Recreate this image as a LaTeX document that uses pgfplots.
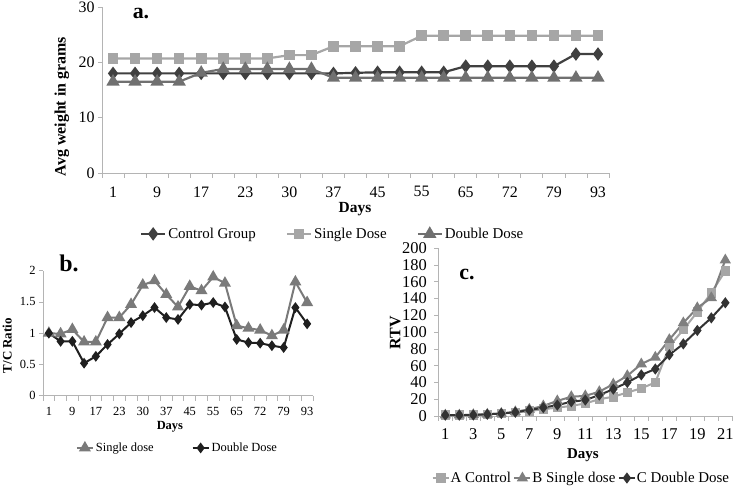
\documentclass[border=0pt]{standalone}
\usepackage{fontspec}
\setmainfont{Liberation Serif}
\usepackage{pgfplots}
\pgfplotsset{compat=1.18}
\definecolor{axgray}{HTML}{B4B4B4}
\definecolor{aCtrl}{HTML}{404040}
\definecolor{aSing}{HTML}{A6A6A6}
\definecolor{aDoub}{HTML}{707070}
\definecolor{bSing}{HTML}{7A7A7A}
\definecolor{bDoub}{HTML}{1F1F1F}
\definecolor{cA}{HTML}{A6A6A6}
\definecolor{cB}{HTML}{7F7F7F}
\definecolor{cC}{HTML}{333333}
\pgfplotsset{
  excel/.style={
    scale only axis,
    axis x line=bottom, axis y line=left,
    axis line style={-, draw=axgray, line width=0.8bp},
    tick align=outside,
    every tick/.style={draw=axgray, line width=0.8bp},
    major tick length=4bp,
    minor tick length=5bp,
    major x tick style={draw=none},
    /pgf/number format/assume math mode=true,
    clip=false,
    legend cell align=left,
  },
}
\begin{document}
\begin{tikzpicture}[x=1bp,y=1bp]
\path[use as bounding box] (0,0) rectangle (733,493);

% ---------------- Panel a ----------------
\begin{axis}[excel,
  at={(102bp,320bp)}, anchor=south west,
  width=507bp, height=166bp,
  xmin=-0.5, xmax=22.5, ymin=0, ymax=30,
  xtick={0,2,...,22},
  xticklabels={1,9,17,23,30,37,45,55,65,72,79,93},
  minor xtick={-0.5,0.5,...,22.5},
  ytick={0,10,20,30},
  tick label style={font=\fontsize{16}{18}\selectfont},
  xticklabel style={yshift=-6bp},
  xlabel={\textbf{Days}},
  xlabel style={at={(axis description cs:0.499,-0.217)}, anchor=center, font=\fontsize{15.5}{17}\selectfont},
  ylabel={\textbf{Avg weight in grams}},
  ylabel style={at={(axis description cs:-0.079,0.40)}, anchor=center, font=\fontsize{16}{18}\selectfont},
  legend columns=3,
  legend style={draw=none, fill=none, at={(axis description cs:0.455,-0.367)}, anchor=center,
    font=\fontsize{15}{17}\selectfont, inner sep=0pt,
    /tikz/every even column/.append style={column sep=28bp}},
  legend image code/.code={\draw[mark repeat=2,mark phase=2,#1] plot coordinates {(0bp,0bp)(12bp,0bp)(24bp,0bp)};},
]
\addplot[color=aCtrl, line width=2.2bp, mark=diamond*, mark size=5bp, mark options={solid,fill=aCtrl}]
 coordinates {(0,18.0)(1,18.0)(2,18.0)(3,18.0)(4,18.0)(5,18.0)(6,18.0)(7,18.0)(8,18.0)(9,18.0)(10,18.0)(11,18.1)(12,18.2)(13,18.2)(14,18.2)(15,18.2)(16,19.3)(17,19.3)(18,19.3)(19,19.3)(20,19.3)(21,21.5)(22,21.5)};
\addlegendentry{Control Group}
\addplot[color=aSing, line width=2.2bp, mark=square*, mark size=4.2bp, mark options={solid,fill=aSing}]
 coordinates {(0,20.7)(1,20.7)(2,20.7)(3,20.7)(4,20.7)(5,20.7)(6,20.7)(7,20.7)(8,21.3)(9,21.3)(10,22.9)(11,22.9)(12,22.9)(13,22.9)(14,24.8)(15,24.8)(16,24.8)(17,24.8)(18,24.8)(19,24.8)(20,24.8)(21,24.8)(22,24.8)};
\addlegendentry{Single Dose}
\addplot[color=aDoub, line width=2.2bp, mark=triangle*, mark size=5.5bp, mark options={solid,fill=aDoub}]
 coordinates {(0,16.5)(1,16.5)(2,16.5)(3,16.5)(4,18.1)(5,18.8)(6,18.8)(7,18.8)(8,18.8)(9,18.8)(10,17.2)(11,17.2)(12,17.2)(13,17.2)(14,17.2)(15,17.2)(16,17.2)(17,17.2)(18,17.2)(19,17.2)(20,17.2)(21,17.2)(22,17.2)};
\addlegendentry{Double Dose}
\end{axis}

% ---------------- Panel b ----------------
\begin{axis}[excel,
  at={(43bp,97.3bp)}, anchor=south west,
  width=270bp, height=125bp,
  xmin=-0.5, xmax=22.5, ymin=0, ymax=2,
  xtick={0,2,...,22},
  xticklabels={1,9,17,23,30,37,45,55,65,72,79,93},
  minor xtick={-0.5,0.5,...,22.5},
  ytick={0,0.5,1,1.5,2},
  yticklabels={0,0.5,1,1.5,2},
  tick label style={font=\fontsize{12.5}{14}\selectfont},
  xticklabel style={yshift=-4bp},
  xlabel={\textbf{Days}},
  xlabel style={at={(axis description cs:0.47,-0.252)}, anchor=center, font=\fontsize{12.5}{14}\selectfont},
  ylabel={\textbf{T/C Ratio}},
  ylabel style={at={(axis description cs:-0.133,0.40)}, anchor=center, font=\fontsize{13}{15}\selectfont},
  legend columns=2,
  legend style={draw=none, fill=none, at={(axis description cs:0.498,-0.418)}, anchor=center,
    font=\fontsize{12.5}{14}\selectfont, inner sep=0pt,
    /tikz/every even column/.append style={column sep=36bp}},
  legend image code/.code={\draw[mark repeat=2,mark phase=2,#1] plot coordinates {(0bp,0bp)(8bp,0bp)(16bp,0bp)};},
]
\addplot[color=bSing, line width=2bp, mark=triangle*, mark size=5bp, mark options={solid,fill=bSing}]
 coordinates {(0,1.00)(1,0.99)(2,1.06)(3,0.86)(4,0.86)(5,1.25)(6,1.25)(7,1.46)(8,1.77)(9,1.84)(10,1.62)(11,1.42)(12,1.75)(13,1.68)(14,1.90)(15,1.80)(16,1.12)(17,1.08)(18,1.05)(19,0.96)(20,1.05)(21,1.82)(22,1.49)};
\addlegendentry{Single dose}
\addplot[color=bDoub, line width=2bp, mark=diamond*, mark size=3.8bp, mark options={solid,fill=bDoub}]
 coordinates {(0,1.00)(1,0.87)(2,0.87)(3,0.52)(4,0.63)(5,0.82)(6,0.99)(7,1.17)(8,1.28)(9,1.41)(10,1.25)(11,1.22)(12,1.46)(13,1.45)(14,1.49)(15,1.42)(16,0.90)(17,0.85)(18,0.84)(19,0.80)(20,0.77)(21,1.41)(22,1.15)};
\addlegendentry{Double Dose}
\end{axis}

% ---------------- Panel c ----------------
\begin{axis}[excel,
  at={(438.3bp,77bp)}, anchor=south west,
  width=294bp, height=167.7bp,
  xmin=0.5, xmax=21.5, ymin=0, ymax=200,
  xtick={1,3,...,21},
  minor xtick={0.5,1.5,...,21.5},
  ytick={0,20,...,200},
  tick label style={font=\fontsize{16.5}{18}\selectfont},
  yticklabel style={xshift=-4bp},
  xticklabel style={yshift=-5bp},
  xlabel={\textbf{Days}},
  xlabel style={at={(axis description cs:0.492,-0.2326)}, anchor=center, font=\fontsize{15}{17}\selectfont},
  ylabel={\textbf{RTV}},
  ylabel style={at={(axis description cs:-0.146,0.495)}, anchor=center, font=\fontsize{16}{18}\selectfont},
  legend columns=3,
  legend style={draw=none, fill=none, at={(axis description cs:0.485,-0.37)}, anchor=center,
    font=\fontsize{15}{17}\selectfont, inner sep=0pt, nodes={inner sep=1bp},
    /tikz/every even column/.append style={column sep=1.5bp}},
  legend image code/.code={\draw[mark repeat=2,mark phase=2,#1] plot coordinates {(0bp,0bp)(8bp,0bp)(16bp,0bp)};},
]
\addplot[color=cA, line width=2bp, mark=square*, mark size=3.8bp, mark options={solid,fill=cA}]
 coordinates {(1,1)(2,1)(3,1.5)(4,2)(5,3)(6,4)(7,6)(8,8)(9,10)(10,12)(11,15)(12,20)(13,23)(14,28)(15,33)(16,40)(17,83)(18,103)(19,124)(20,147)(21,173)};
\addlegendentry{A Control}
\addplot[color=cB, line width=2bp, mark=triangle*, mark size=4.5bp, mark options={solid,fill=cB}]
 coordinates {(1,1)(2,1)(3,1.5)(4,2)(5,3)(6,5)(7,8)(8,12)(9,18)(10,23)(11,24)(12,29)(13,38)(14,48)(15,62)(16,70)(17,91)(18,111)(19,129)(20,141)(21,186)};
\addlegendentry{B Single dose}
\addplot[color=cC, line width=2bp, mark=diamond*, mark size=4bp, mark options={solid,fill=cC}]
 coordinates {(1,1)(2,1)(3,1.2)(4,2)(5,3)(6,4.5)(7,7)(8,10)(9,13)(10,17)(11,19)(12,25)(13,32)(14,40)(15,49)(16,56)(17,73)(18,86)(19,102)(20,117)(21,135)};
\addlegendentry{C Double Dose}
\end{axis}

% panel titles
\node[anchor=base, font=\fontsize{22}{24}\selectfont\bfseries] at (141,474.7) {a.};
\node[anchor=base, font=\fontsize{24}{26}\selectfont\bfseries] at (69,221.3) {b.};
\node[anchor=base, font=\fontsize{22}{24}\selectfont\bfseries] at (467,213) {c.};
\end{tikzpicture}
\end{document}
